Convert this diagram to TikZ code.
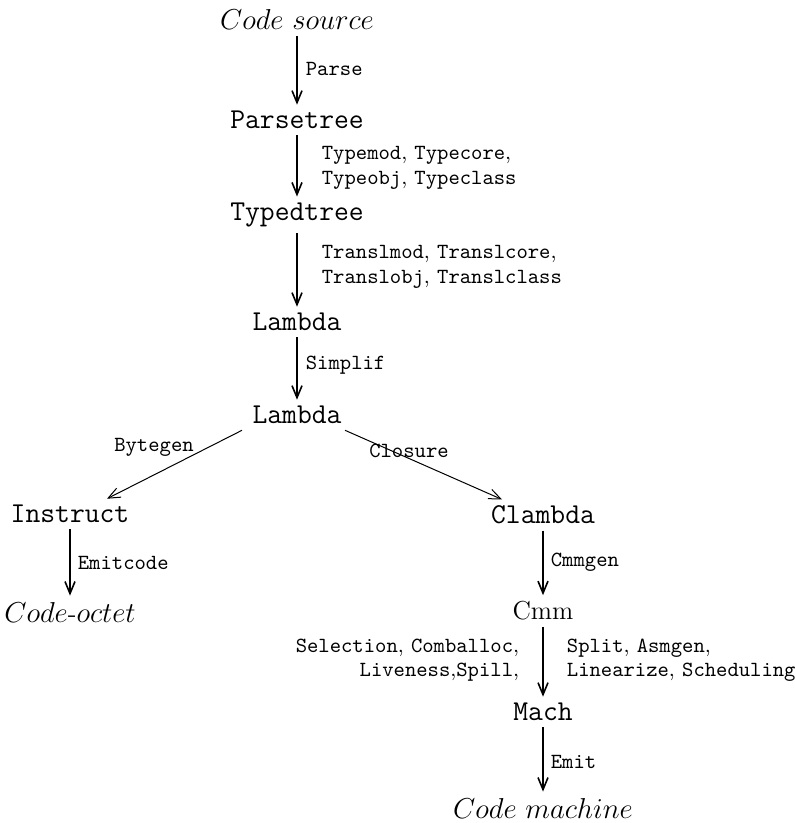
\documentclass[tikz,border=0pt]{standalone}
\usepackage{tikz}
\usetikzlibrary{arrows.meta,calc}

\begin{document}
\begin{tikzpicture}[x=0.5pt,y=0.5pt,yscale=-1,xscale=1]
\useasboundingbox (0,0) rectangle (795,823);
\tikzset{phase/.style={font=\Large\ttfamily,inner sep=3pt},
  lieu/.style={font=\fontsize{13.4}{16}\selectfont,inner sep=3pt},
  passe/.style={font=\fontsize{10.8}{12.2}\selectfont,anchor=west,align=left,inner sep=0.75pt},
  fleche/.style={-{Straight Barb[length=6pt,width=5pt]},line width=0.8pt}}

% Text Node
\node (src) at (297,20) [lieu] {$Code\ source$};
% Text Node
\node (ptree) at (297,120) [phase] {Parsetree};
% Text Node
\node (ttree) at (297,215) [phase] {Typedtree};
% Text Node
\node (lam) at (297,322) [phase] {Lambda};
% Text Node
\node (slam) at (297,415) [phase] {Lambda};
% Text Node
\node (instr) at (70,514) [phase] {Instruct};
% Text Node
\node (octet) at (70,612) [lieu] {$Code\mbox{-}octet$};
% Text Node
\node (clam) at (543,515) [phase] {Clambda};
% Text Node
\node (cmm) at (543,611) [phase,font=\fontsize{13}{15}\selectfont\rmfamily] {Cmm};
% Text Node
\node (mach) at (543,712) [phase] {Mach};
% Text Node
\node (mcode) at (543,808) [lieu] {$Code\ machine$};

%Straight Lines
\draw [fleche] (src) -- (ptree);
\draw [fleche] (ptree) -- (ttree);
\draw [fleche] (ttree) -- (lam);
\draw [fleche] (lam) -- (slam);
\draw [fleche,line width=0.5pt] ($(slam.south)+(-55,0)$) -- ($(instr.north)+(37,0)$);
\draw [fleche,line width=0.5pt] ($(slam.south)+(48,0)$) -- ($(clam.north)+(-41,0)$);
\draw [fleche] (instr) -- (octet);
\draw [fleche] (clam) -- (cmm);
\draw [fleche] (cmm) -- (mach);
\draw [fleche] (mach) -- (mcode);

% Text Node
\node (lparse) at (304,69) [passe] {\texttt{Parse}};
% Text Node
\node (ltype) at (320,168) [passe] {\texttt{Typemod}, \texttt{Typecore},\\\texttt{Typeobj}, \texttt{Typeclass}};
% Text Node
\node (ltransl) at (320,267) [passe] {\texttt{Translmod}, \texttt{Translcore},\\\texttt{Translobj}, \texttt{Translclass}};
% Text Node
\node (lsimpl) at (304,365) [passe] {\texttt{Simplif}};
% Text Node
\node (lbyte) at (154,447) [passe,anchor=center] {\texttt{Bytegen}};
% Text Node
\node (lclos) at (409,451) [passe,anchor=center] {\texttt{Closure}};
% Text Node
\node (lemitc) at (76,563) [passe] {\texttt{Emitcode}};
% Text Node
\node (lcmmgen) at (549,562) [passe] {\texttt{Cmmgen}};
% Text Node
\node (lselec) at (521,660) [passe,anchor=east,align=right] {\texttt{Selection}, \texttt{Comballoc},\\\texttt{Liveness},\texttt{Spill},};
% Text Node
\node (lsplit) at (565,660) [passe] {\texttt{Split}, \texttt{Asmgen},\\\texttt{Linearize}, \texttt{Scheduling}};
% Text Node
\node (lemit) at (549,762) [passe] {\texttt{Emit}};

\end{tikzpicture}
\end{document}
